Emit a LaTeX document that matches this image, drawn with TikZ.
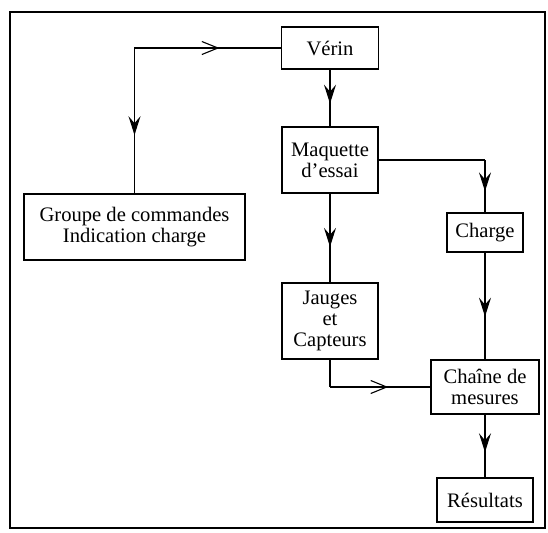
\documentclass[tikz,border=0pt]{standalone}
\usepackage{fontspec}
\setmainfont{Liberation Serif}
\usetikzlibrary{arrows.meta,decorations.markings}
\tikzset{
  bloc/.style={draw,line width=.7pt,inner sep=0pt,align=center,font=\fontsize{10.3}{10.5}\selectfont},
  flux/.style={line width=.55pt},
  pleine/.style={flux,postaction={decorate},decoration={markings,
    mark=at position .6 with {\arrow{Stealth[length=9.5pt,width=6pt,inset=3.5pt]}}}},
  ouverte/.style={flux,postaction={decorate},decoration={markings,
    mark=at position .58 with {\arrow{Straight Barb[length=8pt,width=6.5pt]}}}}
}

\begin{document}
\begin{tikzpicture}[x=.5pt,y=-.5pt]
  \useasboundingbox (0,0) rectangle (548,532);
  \draw[line width=.6pt] (10,12) rectangle (545,528);
  % blocs
  \node[bloc,minimum width=48.5pt,minimum height=21pt] (ver) at (330,48) {Vérin};
  \node[bloc,minimum width=48pt,minimum height=33pt] (maq) at (330,160) {Maquette\\d'essai};
  \node[bloc,minimum width=110.5pt,minimum height=33pt] (grp) at (134.5,227) {Groupe de commandes\\Indication charge};
  \node[bloc,minimum width=38pt,minimum height=19.5pt] (chg) at (485,232.5) {Charge};
  \node[bloc,minimum width=48pt,minimum height=38pt] (jau) at (330,321) {Jauges\\et\\Capteurs};
  \node[bloc,minimum width=54pt,minimum height=27pt] (chn) at (485,387) {Chaîne de\\mesures};
  \node[bloc,minimum width=48pt,minimum height=22pt] (res) at (485,500) {Résultats};
  % liaisons
  \coordinate (k1) at (grp.north |- ver.west);
  \coordinate (k2) at (chg.north |- maq.east);
  \coordinate (k3) at (jau.south |- chn.west);
  \draw[ouverte] (k1) -- (ver.west);
  \draw[pleine] (k1) -- (grp.north);
  \draw[pleine] (ver) -- (maq);
  \draw[flux] (maq.east) -- (k2);
  \draw[pleine] (k2) -- (chg.north);
  \draw[pleine] (maq) -- (jau);
  \draw[pleine] (chg) -- (chn);
  \draw[flux] (jau.south) -- (k3);
  \draw[ouverte] (k3) -- (chn.west);
  \draw[pleine] (chn) -- (res);
\end{tikzpicture}
\end{document}
